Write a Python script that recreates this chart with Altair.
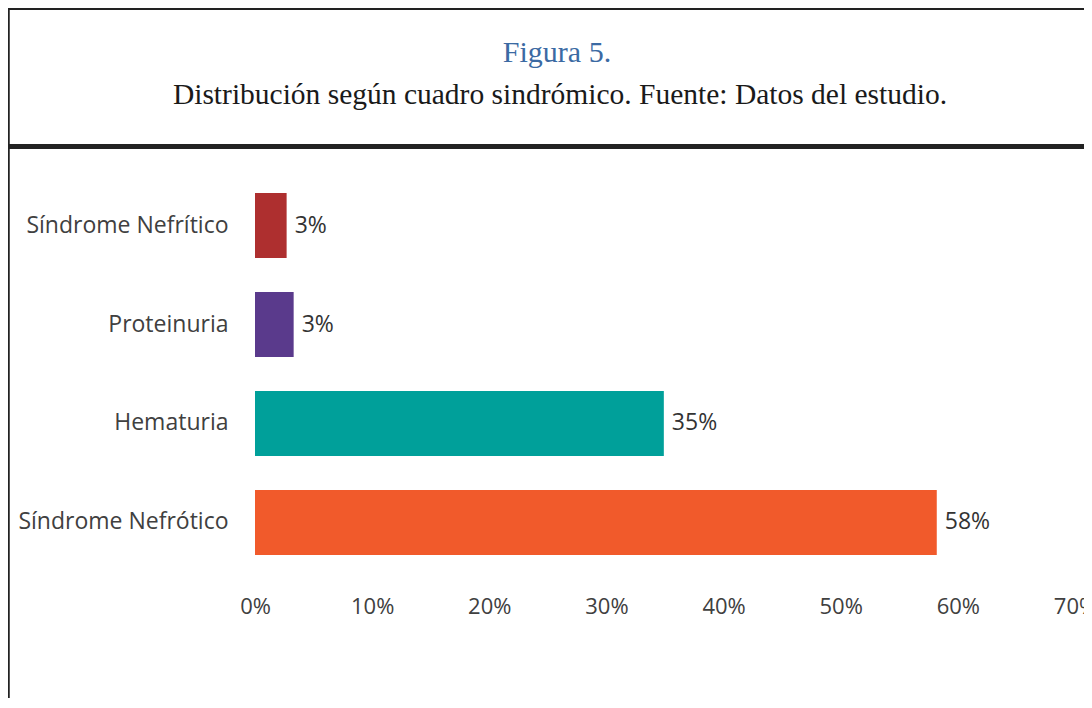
import altair as alt
import pandas as pd

categories = ["Síndrome Nefrítico", "Proteinuria", "Hematuria", "Síndrome Nefrótico"]
values = [2.7, 3.3, 34.9, 58.2]
labels = ["3%", "3%", "35%", "58%"]
colors = ["#AE2F2F", "#5A3A8C", "#00A09A", "#F15A2B"]
x_ticks = [0, 10, 20, 30, 40, 50, 60, 70]
title_text = "Figura 5."
subtitle_text = "Distribución según cuadro sindrómico. Fuente: Datos del estudio."

df = pd.DataFrame({"cat": categories, "val": values, "lab": labels})

y_enc = alt.Y("cat:N", sort=categories,
              scale=alt.Scale(paddingInner=0.343, paddingOuter=0.1717),
              axis=alt.Axis(title=None, ticks=False, domain=False, labelPadding=27,
                            labelLimit=0,
                            labelFont="Open Sans", labelFontSize=23, labelColor="#404040"))
x_enc = alt.X("val:Q", scale=alt.Scale(domain=[0, 70], nice=False),
              axis=alt.Axis(title=None, values=x_ticks, labelExpr="datum.value + '%'",
                            ticks=False, domain=False, grid=False, labelPadding=24,
                            labelFont="Open Sans", labelFontSize=22, labelColor="#404040",
                            labelFlush=False))

bars = alt.Chart(df).mark_bar().encode(
    y=y_enc, x=x_enc,
    color=alt.Color("cat:N", scale=alt.Scale(domain=categories, range=colors), legend=None),
)
text = alt.Chart(df).mark_text(align="left", baseline="middle", dx=8, font="Open Sans",
                               fontSize=23, color="#333333").encode(
    y=alt.Y("cat:N", sort=categories), x="val:Q", text="lab:N")

one = pd.DataFrame({"k": [0]})
top_line = alt.Chart(one).mark_rule(color="#222222", strokeWidth=2).encode(
    x=alt.value(-247), x2=alt.value(850), y=alt.value(-167))
left_line = alt.Chart(one).mark_rule(color="#222222", strokeWidth=2.5).encode(
    x=alt.value(-246.5), y=alt.value(-168), y2=alt.value(600))
thick_line = alt.Chart(one).mark_rule(color="#222222", strokeWidth=5).encode(
    x=alt.value(-246), x2=alt.value(850), y=alt.value(-29.5))

title_mark = alt.Chart(one).mark_text(
    align="center", baseline="alphabetic", font="Liberation Serif", fontSize=30,
    color="#3B6AA3").encode(x=alt.value(302), y=alt.value(-114), text=alt.value(title_text))
subtitle_mark = alt.Chart(one).mark_text(
    align="center", baseline="alphabetic", font="Liberation Serif", fontSize=29.5,
    color="#1a1a1a").encode(x=alt.value(305), y=alt.value(-72), text=alt.value(subtitle_text))

chart = alt.layer(bars, text, top_line, left_line, thick_line, title_mark, subtitle_mark).properties(
    width=820, height=396,
    autosize=alt.AutoSizeParams(type="none"),
    padding={"left": 247, "top": 168, "right": 9, "bottom": 126},
).configure_view(stroke=None)

chart.save("out.html", embed_options={"renderer": "svg", "actions": False})
